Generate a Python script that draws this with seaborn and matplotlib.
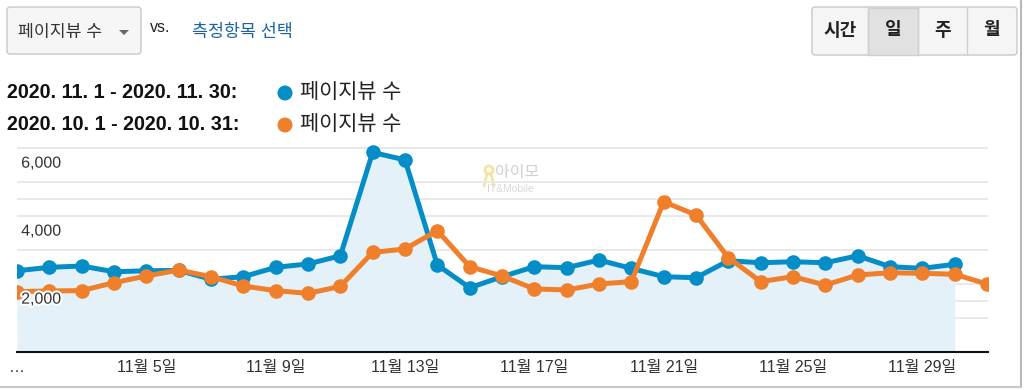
import numpy as np
import pandas as pd
import matplotlib
matplotlib.use("Agg")
import matplotlib.pyplot as plt
import matplotlib.patheffects as pe
from matplotlib.patches import FancyBboxPatch, Rectangle, Polygon, Circle
import seaborn as sns

# ---------------- data ----------------
nov_views = [2390, 2490, 2530, 2360, 2390, 2400, 2140, 2215, 2490, 2590,
             2830, 5870, 5650, 2560, 1890, 2215, 2510, 2480, 2705, 2460,
             2215, 2185, 2685, 2625, 2655, 2625, 2830, 2510, 2460, 2580]
oct_views = [1775, 1795, 1805, 2040, 2235, 2410, 2215, 1940, 1805, 1725,
             1930, 2930, 3030, 3570, 2510, 2235, 1855, 1825, 2000, 2070,
             4420, 4030, 2775, 2070, 2215, 1970, 2265, 2330, 2315, 2285,
             2000]
series_nov = "2020. 11. 1 - 2020. 11. 30:"
series_oct = "2020. 10. 1 - 2020. 10. 31:"
metric_label = "페이지뷰 수"
xtick_pos = [0, 4, 8, 12, 16, 20, 24, 28]
xtick_labels = ["…", "11월 5일", "11월 9일", "11월 13일", "11월 17일",
                "11월 21일", "11월 25일", "11월 29일"]
ytick_values = [2000, 4000, 6000]
ytick_labels = ["2,000", "4,000", "6,000"]
grid_values = [1000, 1500, 2000, 3000, 4000, 4500, 5000, 6000]
period_buttons = ["시간", "일", "주", "월"]

BLUE = "#058dc7"
ORANGE = "#f07f2b"

df = pd.concat([
    pd.DataFrame({"idx": np.arange(len(nov_views)), "views": nov_views, "period": series_nov}),
    pd.DataFrame({"idx": np.arange(len(oct_views)), "views": oct_views, "period": series_oct}),
], ignore_index=True)

sns.set_theme(style="white")
plt.rcParams["font.family"] = ["Liberation Sans", "Noto Sans CJK KR", "DejaVu Sans"]

W, H = 1024, 390
fig = plt.figure(figsize=(W / 100, H / 100), dpi=100)
fig.patch.set_facecolor("white")

# overlay axes in pixel coordinates for the UI elements
ui = fig.add_axes([0, 0, 1, 1], zorder=0)
ui.set_xlim(0, W)
ui.set_ylim(H, 0)
ui.axis("off")

# chart axes
left, right = 17, 988
bottom_px = 352
top_val = 6200
px_per_val = 0.034
top_px = bottom_px - top_val * px_per_val
ax = fig.add_axes([left / W, (H - bottom_px) / H, (right - left) / W, (bottom_px - top_px) / H], zorder=2)
ax.set_facecolor("none")

for g in grid_values:
    ax.axhline(g, color="#e9e9e9", lw=1.4, zorder=0)

ax.fill_between(np.arange(len(nov_views)), nov_views, 0, color="#e4f1f8", zorder=1, lw=0)

sns.lineplot(data=df, x="idx", y="views", hue="period",
             hue_order=[series_nov, series_oct],
             palette={series_nov: BLUE, series_oct: ORANGE},
             marker="o", markersize=10.5, markeredgewidth=0, linewidth=3.6,
             legend=False, ax=ax, zorder=3)

ax.set_xlim(0, 30.03)
ax.set_ylim(0, top_val)
ax.set_xlabel("")
ax.set_ylabel("")
ax.set_yticks([])
ax.set_xticks(xtick_pos)
ax.set_xticklabels(xtick_labels, fontsize=11.5, color="#333333")
ax.tick_params(axis="x", length=0, pad=6)
for s in ["top", "right", "left"]:
    ax.spines[s].set_visible(False)
ax.spines["bottom"].set_color("#111111")
ax.spines["bottom"].set_linewidth(1.5)
ax.spines["bottom"].set_zorder(4)

for v, lab in zip(ytick_values, ytick_labels):
    ax.annotate(lab, xy=(0, v), xycoords=("axes fraction", "data"),
                xytext=(3, -5.5), textcoords="offset points",
                ha="left", va="top", fontsize=11.5, color="#333333", zorder=5,
                path_effects=[pe.withStroke(linewidth=3, foreground="white")])

# watermark
ui.add_patch(Circle((489, 170), 4, facecolor="none", edgecolor="#f7e3a0", lw=2, zorder=1))
ui.plot([487, 484], [174, 186], color="#f7e3a0", lw=2, zorder=1)
ui.plot([491, 494], [174, 186], color="#f7e3a0", lw=2, zorder=1)
ui.text(495, 173, "아이모", fontsize=11.5, color="#cfcfcf", ha="left", va="center", zorder=1)
ui.text(487, 189, "IT&Mobile", fontsize=7.5, color="#d9d9d9", ha="left", va="center", zorder=1)

# ---------------- UI header ----------------
ui.add_patch(FancyBboxPatch((7, 7), 134, 47, boxstyle="round,pad=0,rounding_size=3",
                            facecolor="#f6f6f6", edgecolor="#c8c8c8", lw=1))
ui.text(18, 32, metric_label, fontsize=12.4, color="#333333", va="center", ha="left")
ui.add_patch(Polygon([[119, 30], [129, 30], [124, 35]], closed=True, facecolor="#666666", edgecolor="none"))
ui.text(150, 28, "vs.", fontsize=11.5, color="#222222", va="center", ha="left")
ui.text(192, 32, "측정항목 선택", fontsize=12.5, color="#1b63a6", va="center", ha="left")

# period buttons
edges = [812, 868, 918, 967, 1017]
ui.add_patch(FancyBboxPatch((812, 7), 205, 48, boxstyle="round,pad=0,rounding_size=3",
                            facecolor="#f5f5f5", edgecolor="#c8c8c8", lw=1))
ui.add_patch(Rectangle((868, 7.5), 50, 47, facecolor="#e1e1e1", edgecolor="#cfcfcf", lw=1))
for e in edges[1:-1]:
    ui.plot([e, e], [7.5, 54.5], color="#d0d0d0", lw=1)
for i, lab in enumerate(period_buttons):
    cx = (edges[i] + edges[i + 1]) / 2
    ui.text(cx, 31, lab, fontsize=13, fontweight="bold", color="#222222", ha="center", va="center")

# legend rows
for y, lab, col in [(93, series_nov, BLUE), (125, series_oct, ORANGE)]:
    ui.text(7, y, lab, fontsize=14.2, fontweight="bold", color="#111111", ha="left", va="center")
    ui.add_patch(Circle((285, y), 7.5, facecolor=col, edgecolor="none"))
    ui.text(300, y, metric_label, fontsize=15, color="#222222", ha="left", va="center")

# screenshot borders
ui.plot([1021, 1021], [0, 387], color="#b8b8b8", lw=1.5)
ui.plot([0, 1021], [386.5, 386.5], color="#c8c8c8", lw=1.5)

fig.savefig("out.png", dpi=100, facecolor="white")
